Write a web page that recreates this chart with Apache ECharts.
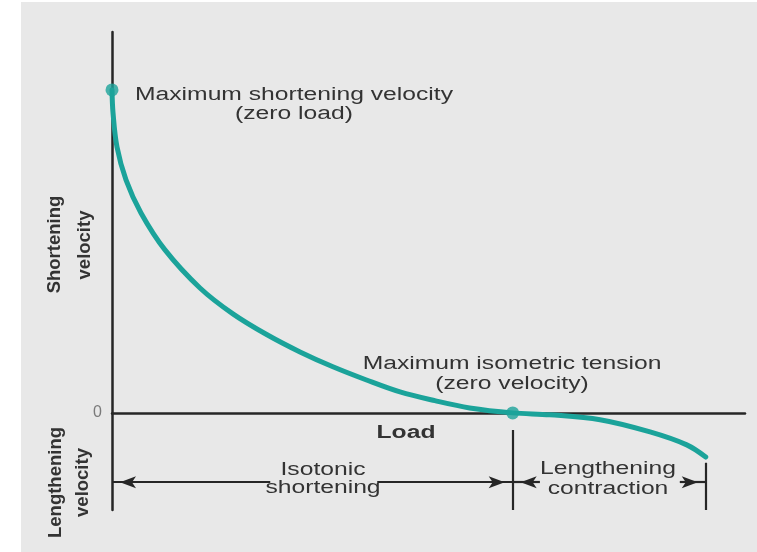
<!DOCTYPE html>
<html>
<head>
<meta charset="utf-8">
<script src="https://cdn.jsdelivr.net/npm/echarts@6/dist/echarts.min.js"></script>
<style>
html,body{margin:0;padding:0;background:#fff;}
#c{width:757px;height:552px;background:#e8e8e8;box-shadow:inset 21px 2px 0 0 #fff;}
</style>
</head>
<body>
<div id="c"></div>
<script>
// ---- data (load in % of axis length, velocity in arbitrary units) ----
const loadValues     = [0, 0.16, 0.79, 2.21, 4.58, 8.37, 13.9, 19.1, 24.5, 29.7, 34.9, 40.1, 45.5, 51.0, 56.5, 63.3, 69.2, 77.1, 85.0, 90.8, 93.8];
const velocityValues = [84.8, 78.8, 69.8, 61.2, 52.5, 42.8, 32.8, 26.0, 20.5, 16.0, 12.1, 8.7, 5.5, 3.2, 1.3, 0, -0.5, -1.8, -5.0, -8.4, -11.6];
const keyPointIndex  = [0, 15];          // max shortening velocity, max isometric tension
const yTickLabels    = [0];
const annotationTexts = ['Maximum shortening velocity', '(zero load)', 'Maximum isometric tension', '(zero velocity)'];
const axisTitles      = ['Load', 'Shortening', 'velocity', 'Lengthening', 'velocity'];
const rangeTexts      = ['Isotonic', 'shortening', 'Lengthening', 'contraction'];

// ---- layout constants ----
const Y_MIN = -25.5, Y_MAX = 100, X_MIN = 0, X_MAX = 100;
const ARROW_Y = -18.2;
const TEAL = '#1ba39a';
const INK = '#262626';
const TXT = '#333';
const FONT = '"Liberation Sans", Arial, sans-serif';
const SX = 1.37;

const curve = loadValues.map((x, i) => [x, velocityValues[i]]);
const keyPoints = keyPointIndex.map(i => curve[i]);
const isoX = loadValues[keyPointIndex[1]];
const endX = loadValues[loadValues.length - 1];

function arrowEnd(coord) {
  return {coord: coord, symbol: 'arrow', symbolSize: [9, 16], symbolOffset: [0, 8]};
}
function plainEnd(coord) {
  return {coord: coord, symbol: 'none'};
}

function txt(text, x, y, opts) {
  opts = opts || {};
  return {
    type: 'text', x: x, y: y, silent: true,
    rotation: opts.rotation || 0,
    scaleX: opts.scaleX == null ? SX : opts.scaleX,
    style: {
      text: text, fontFamily: FONT, fontSize: opts.size || 18,
      fontWeight: opts.bold ? 'bold' : 'normal',
      fill: TXT, align: 'center', verticalAlign: 'middle'
    }
  };
}

const chart = echarts.init(document.getElementById('c'), null, {renderer: 'canvas'});
chart.setOption({
  animation: false,
  backgroundColor: 'transparent',
  grid: {left: 112, right: 12, top: 32, bottom: 42, containLabel: false},
  xAxis: {
    type: 'value', min: X_MIN, max: X_MAX,
    axisLine: {show: true, onZero: true, lineStyle: {color: INK, width: 2.5}},
    axisTick: {show: false}, axisLabel: {show: false}, splitLine: {show: false}
  },
  yAxis: {
    type: 'value', min: Y_MIN, max: Y_MAX,
    axisLine: {show: true, onZero: false, lineStyle: {color: INK, width: 2.5}},
    axisTick: {show: false}, splitLine: {show: false},
    axisLabel: {show: true, customValues: yTickLabels, color: '#7a7a7a', fontSize: 16, fontFamily: FONT, margin: 10}
  },
  series: [
    {
      type: 'line', data: curve, smooth: 0.35, symbol: 'none', clip: false,
      lineStyle: {color: TEAL, width: 5, cap: 'round'}, z: 3,
      emphasis: {disabled: true}
    },
    {
      type: 'scatter', data: keyPoints, symbol: 'circle', symbolSize: 13, clip: false,
      itemStyle: {color: TEAL}, z: 4, emphasis: {disabled: true}
    },
    {
      type: 'line', data: [], silent: true,
      markLine: {
        silent: true, animation: false,
        symbol: ['none', 'none'],
        label: {show: false},
        lineStyle: {color: INK, width: 2.2, type: 'solid'},
        emphasis: {disabled: true},
        data: [
          [arrowEnd([0, ARROW_Y]), plainEnd([25.0, ARROW_Y])],
          [plainEnd([41.9, ARROW_Y]), arrowEnd([isoX, ARROW_Y])],
          [arrowEnd([isoX, ARROW_Y]), plainEnd([67.6, ARROW_Y])],
          [plainEnd([89.7, ARROW_Y]), arrowEnd([endX, ARROW_Y])],
          [plainEnd([isoX, -4.5]), plainEnd([isoX, Y_MIN])],
          [plainEnd([endX, -13.1]), plainEnd([endX, Y_MIN])]
        ]
      }
    }
  ],
  graphic: [
    txt(annotationTexts[0], 294, 95.5),
    txt(annotationTexts[1], 294, 114.5),
    txt(annotationTexts[2], 512, 364.5),
    txt(annotationTexts[3], 512, 384),
    txt(axisTitles[0], 406, 433.5, {bold: true}),
    txt(axisTitles[1], 54.5, 244.5, {bold: true, rotation: Math.PI / 2, scaleX: 1, size: 18.5}),
    txt(axisTitles[2], 84.5, 245, {bold: true, rotation: Math.PI / 2, scaleX: 1, size: 18.5}),
    txt(axisTitles[3], 55.5, 482.5, {bold: true, rotation: Math.PI / 2, scaleX: 1, size: 18.5}),
    txt(axisTitles[4], 82.5, 482.5, {bold: true, rotation: Math.PI / 2, scaleX: 1, size: 18.5}),
    txt(rangeTexts[0], 323, 470),
    txt(rangeTexts[1], 323, 488.5),
    txt(rangeTexts[2], 608, 469.5),
    txt(rangeTexts[3], 608, 489.5)
  ]
});
</script>
</body>
</html>
